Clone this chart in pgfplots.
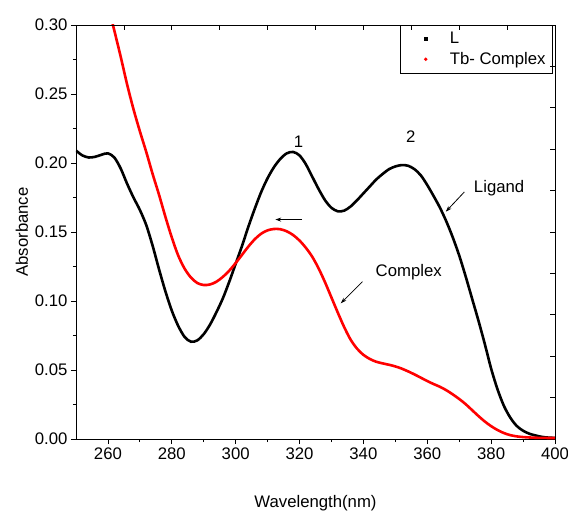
\documentclass[border=0pt]{standalone}
\usepackage{pgfplots}
\pgfplotsset{compat=1.18}
\usepackage{fontspec}
\setmainfont{Liberation Sans}
\usetikzlibrary{arrows.meta}

\begin{document}
\begin{tikzpicture}
\begin{axis}[
    scale only axis,
    width=479bp, height=414bp,
    xmin=250, xmax=400,
    ymin=0, ymax=0.30,
    xtick={260,280,...,400},
    ytick={0,0.05,...,0.31},
    minor tick num=1,
    xtick pos=bottom, ytick pos=left,
    tick align=outside,
    major tick length=5bp, minor tick length=3bp,
    tick style={black, line width=0.8bp},
    axis line style={line width=0.9bp},
    font=\fontsize{16.8}{20}\selectfont,
    /pgf/number format/assume math mode=true,
    yticklabel style={/pgf/number format/.cd, fixed, fixed zerofill, precision=2},
    xticklabel style={/pgf/number format/.cd, set thousands separator={}},
    xlabel={Wavelength(nm)},
    ylabel={Absorbance},
    xlabel style={at={(axis description cs:0.5,-0.155)}, anchor=center},
    ylabel style={at={(axis description cs:-0.113,0.5)}, anchor=center},
    legend style={at={(rel axis cs:1,1)}, anchor=north east, xshift=-2bp,
        draw=black, line width=0.8bp, font=\fontsize{16.8}{20}\selectfont,
        row sep=3bp, inner sep=5bp, nodes={inner sep=2bp}},
    legend cell align=left,
]

% L (ligand)
\addplot[black, line width=2.6bp, smooth,
    legend image code/.code={\path[draw=none, fill=none] (0,0) -- (42bp,0);
        \fill[black, draw=none] (20bp-1.8bp,-1.8bp) rectangle ++(3.6bp,3.6bp);}]
coordinates {
(250,0.209) (252,0.2055) (254,0.204) (256,0.2045) (258,0.206) (260,0.207)
(262,0.204) (264,0.196) (266,0.185) (268,0.175) (270,0.166) (272,0.155)
(274,0.140) (276,0.123) (278,0.107) (280,0.093) (282,0.082) (284,0.074)
(286,0.0705) (288,0.0715) (290,0.076) (292,0.083) (294,0.092) (296,0.102)
(298,0.114) (300,0.127) (302,0.140) (304,0.154) (306,0.167) (308,0.179)
(310,0.189) (312,0.197) (314,0.203) (316,0.207) (318,0.208) (320,0.2055)
(322,0.199) (324,0.190) (326,0.181) (328,0.173) (330,0.1675) (332,0.165)
(334,0.1655) (336,0.1685) (338,0.173) (340,0.178) (342,0.183) (344,0.188)
(346,0.192) (348,0.1955) (350,0.1975) (352,0.1985) (354,0.198) (356,0.1955)
(358,0.191) (360,0.184) (362,0.176) (364,0.1675) (366,0.1575) (368,0.146)
(370,0.133) (372,0.118) (374,0.102) (376,0.086) (378,0.069) (380,0.051)
(382,0.036) (384,0.024) (386,0.0155) (388,0.0095) (390,0.006) (392,0.0038)
(394,0.0025) (396,0.0015) (398,0.001) (400,0.0008)
};
\addlegendentry{L}

% Tb complex
\addplot[red, line width=2.6bp, smooth,
    legend image code/.code={\path[draw=none, fill=none] (0,0) -- (42bp,0);
        \fill[red, draw=none] (20bp,0) circle (1.9bp);}]
coordinates {
(258,0.335) (260,0.315) (262,0.296) (264,0.277) (266,0.257) (268,0.239)
(270,0.223) (272,0.208) (274,0.192) (276,0.177) (278,0.161) (280,0.146)
(282,0.133) (284,0.1235) (286,0.117) (288,0.113) (290,0.1116) (292,0.112)
(294,0.114) (296,0.1175) (298,0.122) (300,0.1275) (302,0.1335) (304,0.1395)
(306,0.1448) (308,0.1488) (310,0.1512) (312,0.1522) (314,0.152) (316,0.1505)
(318,0.1478) (320,0.1438) (322,0.1385) (324,0.132) (326,0.1235) (328,0.1135)
(330,0.1025) (332,0.0915) (334,0.081) (336,0.072) (338,0.0655) (340,0.061)
(342,0.058) (344,0.056) (346,0.0548) (348,0.0538) (350,0.0526) (352,0.051)
(354,0.049) (356,0.0468) (358,0.0444) (360,0.042) (362,0.0398) (364,0.0378)
(366,0.0353) (368,0.0323) (370,0.029) (372,0.0253) (374,0.021) (376,0.0167)
(378,0.0127) (380,0.0093) (382,0.0065) (384,0.0043) (386,0.0028) (388,0.0019)
(390,0.0014) (392,0.0011) (394,0.0009) (396,0.0008) (400,0.0007)
};
\addlegendentry{Tb- Complex}

% annotations
\node[font=\fontsize{16.8}{20}\selectfont] at (axis cs:319.7,0.2152) {1};
\node[font=\fontsize{16.8}{20}\selectfont] at (axis cs:354.8,0.2188) {2};
\node[font=\fontsize{16.8}{20}\selectfont] at (axis cs:382.5,0.182) {Ligand};
\node[font=\fontsize{16.8}{20}\selectfont] at (axis cs:354.2,0.121) {Complex};
\draw[-{Stealth[length=6bp,width=4bp]}, line width=0.8bp] (axis cs:371.6,0.179) -- (axis cs:365.8,0.1647);
\draw[-{Stealth[length=6bp,width=4bp]}, line width=0.8bp] (axis cs:339.7,0.114) -- (axis cs:332.9,0.0983);
\draw[-{Stealth[length=6bp,width=4bp]}, line width=0.8bp] (axis cs:320.8,0.159) -- (axis cs:312.4,0.159);
\end{axis}

% inward ticks on top and right edges
\begin{axis}[
    scale only axis,
    width=479bp, height=414bp,
    xmin=0, xmax=10, ymin=0, ymax=10,
    axis x line*=top, axis y line*=right,
    xtick={1,...,9}, ytick={1,...,9},
    xticklabels={}, yticklabels={},
    tick align=inside,
    major tick length=5bp,
    tick style={black, line width=0.8bp},
    axis line style={line width=0.9bp, -},
]
\end{axis}

\pgfresetboundingbox
\path (current axis.south west) ++(-76bp,-77bp) rectangle ([xshift=13bp,yshift=25bp]current axis.north east);
\end{tikzpicture}
\end{document}
